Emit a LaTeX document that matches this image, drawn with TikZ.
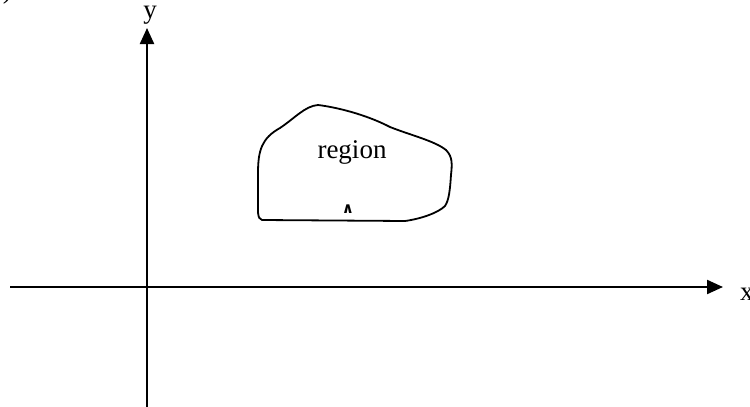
\documentclass[tikz,border=0pt]{standalone}
\usepackage{fontspec}
\setmainfont{Liberation Serif}
\newfontfamily\symfont{DejaVu Sans}
\usetikzlibrary{arrows.meta}
\begin{document}
\begin{tikzpicture}[x=1pt,y=-1pt,
  axis/.style={line width=2.2pt,-{Triangle[length=16pt,width=14pt]}},
  blob/.style={line width=1.8pt,line join=round},
  lbl/.style={font=\fontsize{27}{30}\selectfont,inner sep=0pt}]
\useasboundingbox (0,0) rectangle (750,407);
\coordinate (xs) at (10,287);
\coordinate (xe) at (723,287);
\coordinate (ys) at (147,407);
\coordinate (ye) at (147,28);
\draw[axis] (xs) -- (xe);
\draw[axis] (ys) -- (ye);
\node[lbl,anchor=base west] (xl) at (740,300) {x};
\node[lbl,anchor=base] (yl) at (150,18) {y};
\node[lbl,anchor=north east] (par) at (12,-20) {)};
\draw[blob] (258,173)
  .. controls (258,150) and (262,138) .. (280,128)
  .. controls (295,118) and (305,106) .. (318,105)
  .. controls (335,107) and (365,114) .. (390,127)
  .. controls (410,135) and (435,141) .. (446,150)
  .. controls (453,157) and (452,165) .. (451,175)
  .. controls (450,190) and (449,200) .. (445,206)
  .. controls (438,213) and (420,219) .. (405,221)
  -- (262,220)
  .. controls (257,219) and (258,210) .. (258,200)
  -- cycle;
\node[lbl,anchor=base] (reg) at (352,158) {region};
\node[font=\symfont\bfseries\fontsize{15}{17}\selectfont,inner sep=0pt] (car) at (348,209) {∧};
\end{tikzpicture}
\end{document}
